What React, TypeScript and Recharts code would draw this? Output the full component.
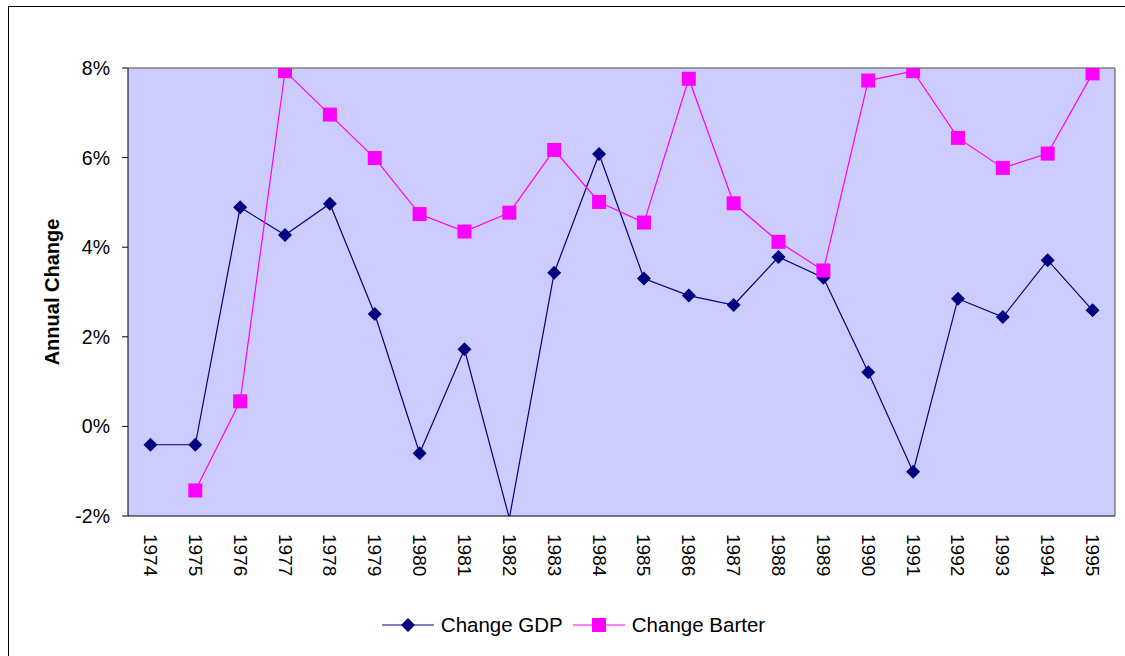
import React from 'react';
import { LineChart, Line, XAxis, YAxis, CartesianGrid, ReferenceLine, Legend } from 'recharts';

const years = ['1974','1975','1976','1977','1978','1979','1980','1981','1982','1983','1984','1985','1986','1987','1988','1989','1990','1991','1992','1993','1994','1995'];
const gdpChange = [-0.41,-0.41,4.89,4.27,4.97,2.51,-0.6,1.72,-2.05,3.43,6.08,3.3,2.92,2.71,3.78,3.32,1.21,-1.01,2.85,2.44,3.71,2.59];
const barterChange = [null,-1.43,0.56,7.93,6.96,5.99,4.74,4.35,4.77,6.17,5.01,4.55,7.76,4.98,4.12,3.48,7.72,7.93,6.44,5.77,6.09,7.88];
const yTicks = [-2, 0, 2, 4, 6, 8];
const yDomain = [-2, 8];
const seriesOrder = ['gdp', 'barter'];

const data = years.map((y, i) => ({ idx: i, year: y, gdp: gdpChange[i], barter: barterChange[i] }));
const centerTicks = years.map((_, i) => i);
const boundaryTicks = years.map((_, i) => i - 0.5).concat([years.length - 0.5]);
const xDomain = [-0.5, years.length - 0.5];

const FONT = '"Liberation Sans", Arial, sans-serif';
const GDP_COLOR = '#000080';
const BARTER_COLOR = '#FF00FF';

const inRange = (v: any) => v !== null && v !== undefined && v >= yDomain[0] && v <= yDomain[1];

const DiamondDot = (props: any) => {
  const { cx, cy, value, index } = props;
  if (!inRange(value) || cx == null || cy == null) return <g key={`gd-${index}`} />;
  const r = 7;
  return (
    <polygon key={`gd-${index}`} points={`${cx},${cy - r} ${cx + r},${cy} ${cx},${cy + r} ${cx - r},${cy}`} fill={GDP_COLOR} />
  );
};

const SquareDot = (props: any) => {
  const { cx, cy, value, index } = props;
  if (!inRange(value) || cx == null || cy == null) return <g key={`bd-${index}`} />;
  const r = 7;
  return <rect key={`bd-${index}`} x={cx - r} y={cy - r} width={2 * r} height={2 * r} fill={BARTER_COLOR} />;
};

const YearTick = (props: any) => {
  const { x, y, payload } = props;
  return (
    <text x={x} y={y} transform={`rotate(90 ${x} ${y})`} textAnchor="start" dominantBaseline="central" fontSize={19} fontFamily={FONT} fill="#000">
      {years[payload.value]}
    </text>
  );
};

const LegendContent = (props: any) => {
  const payload = [...(props.payload || [])].sort(
    (a: any, b: any) => seriesOrder.indexOf(a.dataKey) - seriesOrder.indexOf(b.dataKey)
  );
  return (
    <div style={{ display: 'flex', justifyContent: 'center', alignItems: 'center', height: 30, paddingLeft: 32, fontFamily: FONT, fontSize: 20.5, color: '#000' }}>
      {payload.map((entry: any, i: number) => (
        <div key={i} style={{ display: 'flex', alignItems: 'center', marginRight: i === 0 ? 10 : 0 }}>
          <svg width={52} height={20} style={{ display: 'block' }}>
            <line x1={0} y1={10} x2={52} y2={10} stroke={entry.color} strokeWidth={1.2} />
            {entry.dataKey === 'gdp' ? (
              <polygon points="26,3 33,10 26,17 19,10" fill={entry.color} />
            ) : (
              <rect x={19} y={3} width={14} height={14} fill={entry.color} />
            )}
          </svg>
          <span style={{ marginLeft: 7 }}>{entry.value}</span>
        </div>
      ))}
    </div>
  );
};

export default function App() {
  return (
    <div style={{ position: 'absolute', left: 0, top: 0, width: 1125, height: 656, overflow: 'hidden', background: '#fff' }}>
      <div style={{ position: 'absolute', left: 8, top: 6, width: 1300, height: 800, border: '1px solid #000' }} />
      <div style={{ position: 'absolute', left: 0, top: 0 }}>
        <LineChart width={1125} height={656} data={data} margin={{ top: 68, right: 10, bottom: 16, left: 0 }}>
          <CartesianGrid horizontal={false} vertical={false} fill="#CCCCFF" fillOpacity={1} xAxisId="a" />
          <XAxis
            xAxisId="a"
            dataKey="idx"
            type="number"
            domain={xDomain}
            ticks={boundaryTicks}
            tick={false}
            tickSize={6}
            height={10}
            stroke="#000"
            tickLine={{ stroke: '#000' }}
            axisLine={{ stroke: '#000' }}
            allowDataOverflow
          />
          <XAxis
            xAxisId="b"
            dataKey="idx"
            type="number"
            domain={xDomain}
            ticks={centerTicks}
            tick={<YearTick />}
            tickLine={false}
            axisLine={false}
            tickSize={6}
            tickMargin={2}
            height={84}
            interval={0}
            allowDataOverflow
          />
          <YAxis
            width={128}
            type="number"
            domain={yDomain}
            ticks={yTicks}
            allowDataOverflow
            interval={0}
            tickFormatter={(v: number) => `${v}%`}
            tickSize={6}
            tickMargin={12}
            stroke="#000"
            tickLine={{ stroke: '#000' }}
            axisLine={{ stroke: '#000' }}
            tick={{ fill: '#000', fontSize: 19.5, fontFamily: FONT }}
            label={{
              content: (p: any) => {
                const vb = p.viewBox || {};
                const cy = (vb.y || 0) + (vb.height || 0) / 2;
                const cx = 52;
                return (
                  <text x={cx} y={cy} transform={`rotate(-90 ${cx} ${cy})`} textAnchor="middle" dominantBaseline="central" fontSize={20} fontWeight="bold" fontFamily={FONT} fill="#000">
                    Annual Change
                  </text>
                );
              },
            }}
          />
          <ReferenceLine xAxisId="a" y={8} stroke="#808080" strokeWidth={1.5} />
          <ReferenceLine xAxisId="a" x={years.length - 0.5} stroke="#808080" strokeWidth={1.5} />
          <Line xAxisId="a" type="linear" dataKey="gdp" name="Change GDP" stroke={GDP_COLOR} strokeWidth={1.2} dot={DiamondDot} activeDot={false} isAnimationActive={false} />
          <Line xAxisId="a" type="linear" dataKey="barter" name="Change Barter" stroke={BARTER_COLOR} strokeWidth={1.2} dot={SquareDot} activeDot={false} isAnimationActive={false} />
          <Legend verticalAlign="bottom" content={<LegendContent />} />
        </LineChart>
      </div>
    </div>
  );
}
